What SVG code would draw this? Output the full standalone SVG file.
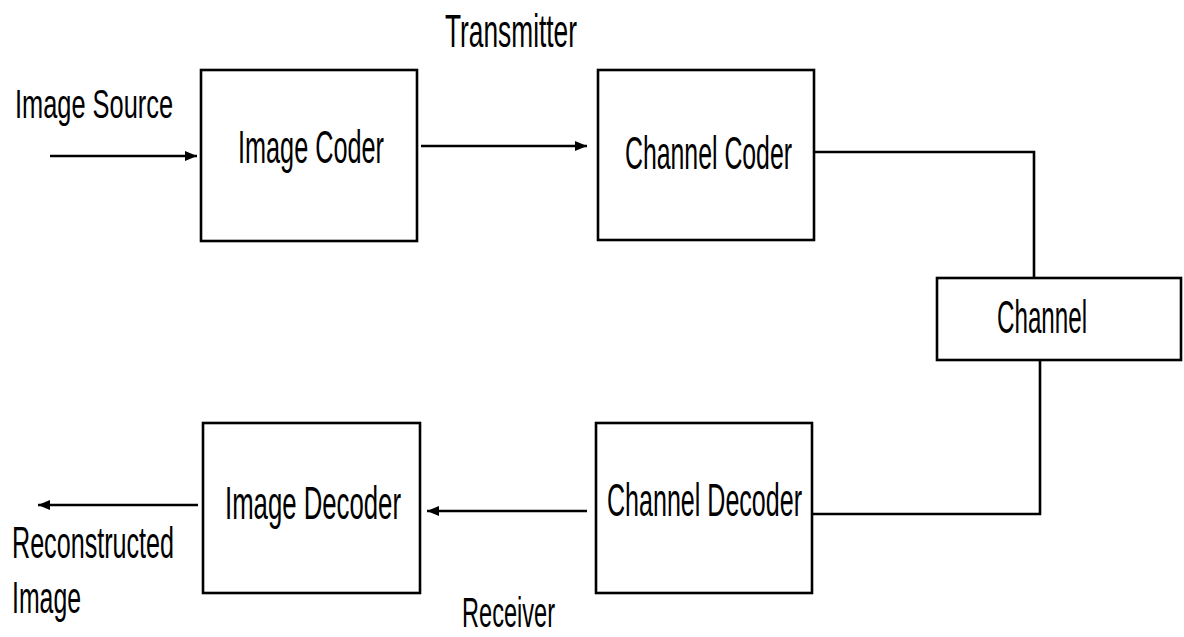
<svg xmlns="http://www.w3.org/2000/svg" width="1184" height="637" viewBox="0 0 1184 637">
<defs>
<style>
.box{fill:#fff;stroke:#000;stroke-width:2.6}
.ln{fill:none;stroke:#000;stroke-width:2.6}
.t{font-family:"Liberation Sans","DejaVu Sans",sans-serif;font-size:46px;fill:#000}
</style>
<marker id="ah" viewBox="0 0 12 10" refX="12" refY="5" markerWidth="12" markerHeight="10" markerUnits="userSpaceOnUse" orient="auto">
<path d="M0,0 L12,5 L0,10 Z" fill="#000"/>
</marker>
</defs>
<rect width="1184" height="637" fill="#fff"/>
<g id="connectors">
<line class="ln" x1="50" y1="156" x2="197" y2="156" marker-end="url(#ah)"/>
<line class="ln" x1="421" y1="146" x2="587" y2="146" marker-end="url(#ah)"/>
<polyline class="ln" points="814,152 1034,152 1034,278"/>
<polyline class="ln" points="1040,360 1040,514 812,514"/>
<line class="ln" x1="587" y1="511" x2="427" y2="511" marker-end="url(#ah)"/>
<line class="ln" x1="198" y1="505" x2="38" y2="505" marker-end="url(#ah)"/>
</g>
<g id="image-coder">
<rect class="box" x="201" y="70" width="216" height="171"/>
<text class="t" x="238" y="163" textLength="146" lengthAdjust="spacingAndGlyphs">Image Coder</text>
</g>
<g id="channel-coder">
<rect class="box" x="598" y="70" width="216" height="170"/>
<text class="t" x="625" y="169" textLength="167" lengthAdjust="spacingAndGlyphs">Channel Coder</text>
</g>
<g id="channel">
<rect class="box" x="937" y="278" width="244" height="82"/>
<text class="t" x="997" y="333" textLength="90" lengthAdjust="spacingAndGlyphs">Channel</text>
</g>
<g id="channel-decoder">
<rect class="box" x="596" y="423" width="216" height="170"/>
<text class="t" x="607" y="516" textLength="195" lengthAdjust="spacingAndGlyphs">Channel Decoder</text>
</g>
<g id="image-decoder">
<rect class="box" x="203" y="423" width="217" height="170"/>
<text class="t" x="225" y="519" textLength="176" lengthAdjust="spacingAndGlyphs">Image Decoder</text>
</g>
<g id="labels">
<text class="t" x="15" y="118" style="font-size:40px" textLength="158" lengthAdjust="spacingAndGlyphs">Image Source</text>
<text class="t" x="445" y="47" textLength="132" lengthAdjust="spacingAndGlyphs">Transmitter</text>
<text class="t" x="12" y="558" style="font-size:44px" textLength="162" lengthAdjust="spacingAndGlyphs">Reconstructed</text>
<text class="t" x="12" y="613" style="font-size:44px" textLength="69" lengthAdjust="spacingAndGlyphs">Image</text>
<text class="t" x="462" y="627" style="font-size:43px" textLength="93" lengthAdjust="spacingAndGlyphs">Receiver</text>
</g>
</svg>
